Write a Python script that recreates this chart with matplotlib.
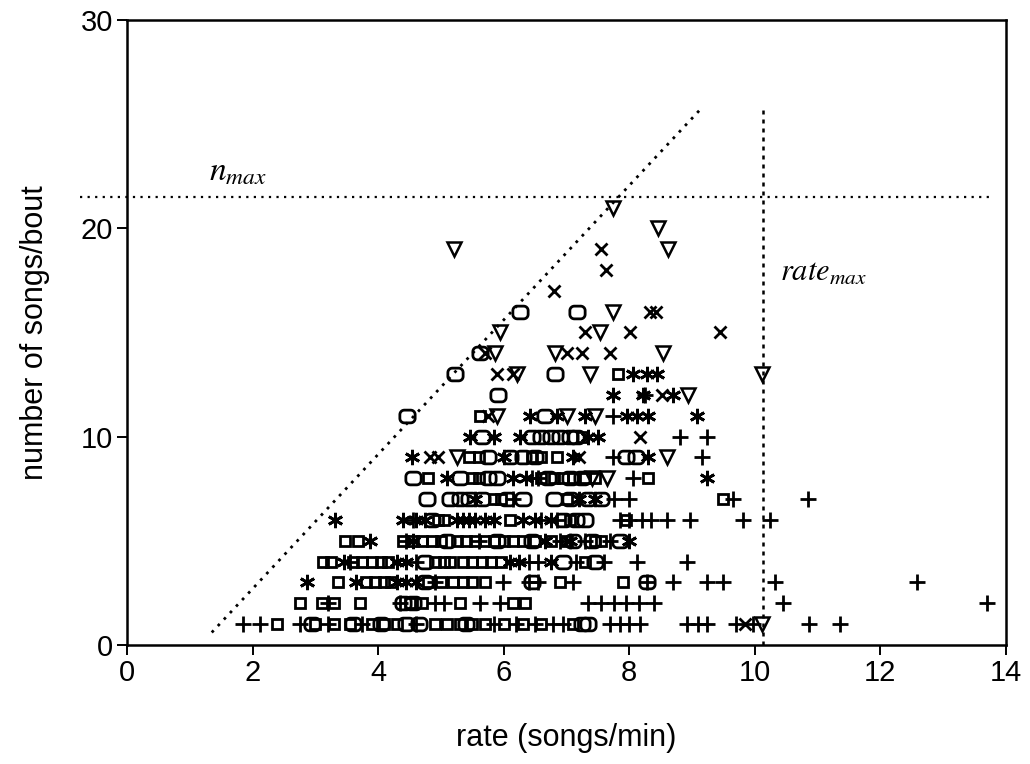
import numpy as np
import matplotlib
matplotlib.use('Agg')
import matplotlib.pyplot as plt
from matplotlib.path import Path

plt.rcParams['font.family'] = ['Liberation Sans', 'DejaVu Sans']
plt.rcParams['mathtext.fontset'] = 'stix'

# Song bouts: rate (songs/min) and number of songs per bout, one pair of lists per marker
sq_rate = [2.39, 3.0, 3.3, 3.55, 3.9, 4.1, 4.3, 4.9, 5.1, 5.3, 5.5, 5.7, 6.0, 6.3, 6.6, 7.1,
           2.75, 3.1, 3.3, 3.71, 4.5, 4.7, 5.3, 6.15, 6.34,
           3.36, 3.8, 3.95, 4.1, 4.2, 4.8, 5.0, 5.2, 5.35, 5.5, 5.7, 6.9, 7.9,
           3.12, 3.25, 3.6, 3.75, 3.9, 4.05, 4.15, 4.9, 5.05, 5.15, 5.35, 5.5, 5.65, 5.8, 5.95, 7.3,
           3.47, 3.68, 4.4, 4.55, 4.7, 4.85, 5.0, 5.25, 5.4, 5.55, 5.7, 5.85, 6.0, 6.15, 6.3, 6.5,
           6.75, 7.0, 7.45, 7.55,
           4.95, 5.05, 6.1, 7.05, 7.95,
           5.85, 5.95, 7.0, 9.49,
           4.8, 5.5, 5.6, 6.95, 8.3, 6.6, 6.8, 7.1, 7.3, 7.45,
           5.45, 5.6, 6.45, 6.6, 6.85,
           7.25, 5.62, 7.82]
sq_n = [1] * 16 + [2] * 9 + [3] * 13 + [4] * 16 + [5] * 20 + [6] * 5 + [7] * 4 + [8] * 10 \
    + [9] * 5 + [10, 11, 13]

rs_rate = [2.95, 3.6, 4.05, 4.45, 4.65, 5.4, 7.25, 7.35,
           4.4, 4.55,
           4.75, 6.45, 8.28,
           4.75, 6.95, 7.45,
           5.1, 5.9, 6.45, 7.1, 7.4, 7.85,
           4.85, 6.95, 7.15, 7.3,
           4.78, 5.15, 5.3, 5.45, 5.65, 6.05, 6.3, 6.8, 7.05, 7.35, 7.55,
           4.55, 5.3, 5.75, 5.9, 6.7, 7.05, 7.25,
           5.75, 6.1, 6.3, 6.5, 7.95, 8.1,
           5.65, 6.45, 6.6, 6.75, 6.9, 7.05, 7.15,
           4.46, 6.65,
           5.91, 5.22, 6.82, 5.62, 6.26, 7.17]
rs_n = [1] * 8 + [2] * 2 + [3] * 3 + [4] * 3 + [5] * 6 + [6] * 4 + [7] * 11 + [8] * 7 \
    + [9] * 6 + [10] * 7 + [11] * 2 + [12, 13, 13, 14, 16, 16]

x_rate = [9.85, 7.2, 4.83, 4.95, 8.17, 5.75, 8.52, 5.89, 6.15,
          5.7, 7.0, 7.24, 7.69, 7.29, 8.01, 9.44, 8.33, 8.43, 6.8, 7.63, 7.55]
x_n = [1, 9, 9, 9, 10, 11, 12, 13, 13,
       14, 14, 14, 14, 15, 15, 15, 16, 16, 17, 18, 19]

ast_rate = [2.87, 3.65, 4.3, 4.45, 4.6,
            3.45, 4.3, 4.45, 6.1, 6.25, 6.75,
            3.87, 4.55, 6.65, 7.05, 8.0,
            3.31, 4.4, 4.6, 4.75, 5.25, 5.35, 5.45, 5.55, 5.7, 5.85, 6.3, 6.5, 6.75,
            5.55, 7.2, 7.45,
            5.1, 6.15, 6.35, 9.24,
            4.54, 6.0, 7.1, 8.3,
            5.46, 5.85, 6.26, 7.35, 7.5,
            6.42, 6.85, 7.3, 7.96, 8.12, 8.3, 9.08,
            7.74, 8.22, 8.7,
            8.06, 8.28, 8.44]
ast_n = [3] * 5 + [4] * 6 + [5] * 5 + [6] * 13 + [7] * 3 + [8] * 4 + [9] * 4 + [10] * 5 \
    + [11] * 7 + [12] * 3 + [13] * 3

plus_rate = [1.85, 2.12, 2.75, 3.2, 3.75, 4.6, 5.85, 6.2, 6.5, 6.78, 6.94, 7.7, 7.85, 8.0,
             8.17, 8.92, 9.1, 9.24, 9.7, 9.97, 10.87, 11.35,
             3.2, 4.35, 4.9, 5.05, 5.62, 5.94, 7.35, 7.55, 7.75, 7.95, 8.15, 8.4, 10.45, 13.69,
             4.9, 5.99, 6.4, 6.55, 7.1, 8.28, 8.7, 9.24, 9.5, 10.32, 12.58,
             3.55, 4.6, 6.4, 6.55, 7.15, 7.6, 8.12, 8.92,
             4.45, 5.6, 6.9, 7.3, 7.7,
             4.55, 6.6, 6.85, 7.85, 8.0, 8.2, 8.35, 8.6, 8.96, 9.81, 10.24,
             6.15, 7.75, 8.0, 9.65, 10.84,
             6.45, 6.55, 8.06,
             7.74, 9.16,
             8.8, 9.24,
             7.74, 8.25]
plus_n = [1] * 22 + [2] * 14 + [3] * 11 + [4] * 8 + [5] * 5 + [6] * 11 + [7] * 5 + [8] * 3 \
    + [9] * 2 + [10] * 2 + [11, 12]

tri_rate = [10.11, 7.65, 7.4, 5.25, 8.6, 5.89, 7.0, 7.45, 8.93, 6.21, 7.37, 10.11,
            5.86, 6.82, 8.54, 5.94, 7.53, 7.74, 5.21, 8.61, 8.46, 7.74]
tri_n = [1, 8, 8, 9, 9, 11, 11, 11, 12, 13, 13, 13,
         14, 14, 14, 15, 15, 16, 19, 19, 20, 21]

# n_max level, rate_max level and the rate*time limit line
n_max = 21.5
rate_max = 10.13
diag_rate = [1.35, 9.16]
diag_n = [0.6, 25.8]


def rounded_square(w=1.2, h=1.0, r=0.35):
    pts = []
    corners = [(w / 2 - r, h / 2 - r, 0), (-w / 2 + r, h / 2 - r, 90),
               (-w / 2 + r, -h / 2 + r, 180), (w / 2 - r, -h / 2 + r, 270)]
    for cx, cy, a0 in corners:
        t = np.radians(np.linspace(a0, a0 + 90, 8))
        pts += list(zip(cx + r * np.cos(t), cy + r * np.sin(t)))
    pts.append(pts[0])
    return Path(pts, closed=True)


fig, ax = plt.subplots(figsize=(10.3, 7.64), dpi=100)
fig.subplots_adjust(left=0.1233, right=0.9767, bottom=0.1558, top=0.9738)

kw = dict(color='black', linestyle='none', markerfacecolor='none', markeredgewidth=2.0)
ax.plot(sq_rate, sq_n, marker='s', markersize=6.5, **kw)
ax.plot(rs_rate, rs_n, marker=rounded_square(), markersize=11, **kw)
ax.plot(x_rate, x_n, marker='x', markersize=8, **kw)
ax.plot(ast_rate, ast_n, marker=(6, 2, 0), markersize=11, **kw)
ax.plot(plus_rate, plus_n, marker='+', markersize=12, **kw)
ax.plot(tri_rate, tri_n, marker='v', markersize=10, markeredgewidth=1.8,
        color='black', linestyle='none', markerfacecolor='none')

ax.plot([-0.75, 13.8], [n_max, n_max], color='black', linestyle=(0, (1, 2.4)),
        linewidth=1.6, clip_on=False)
ax.plot([rate_max, rate_max], [0, 25.9], color='black', linestyle=(0, (1.6, 2.0)),
        linewidth=1.8)
ax.plot(diag_rate, diag_n, color='black', linestyle=(0, (1, 2.2)), linewidth=2.0)

ax.text(1.3, 22.3, r'$n_{max}$', fontsize=24)
ax.text(10.4, 17.5, r'$rate_{max}$', fontsize=22)

ax.set_xlim(0, 14)
ax.set_ylim(0, 30)
ax.set_xticks(range(0, 15, 2))
ax.set_yticks([0, 10, 20, 30])
ax.tick_params(direction='out', length=7, width=1.4, labelsize=21, pad=3)
for s in ax.spines.values():
    s.set_linewidth(1.8)

ax.set_xlabel('rate (songs/min)', fontsize=22, labelpad=26)
ax.set_ylabel('number of songs/bout', fontsize=22, labelpad=22)

fig.savefig('out.png', dpi=100)
